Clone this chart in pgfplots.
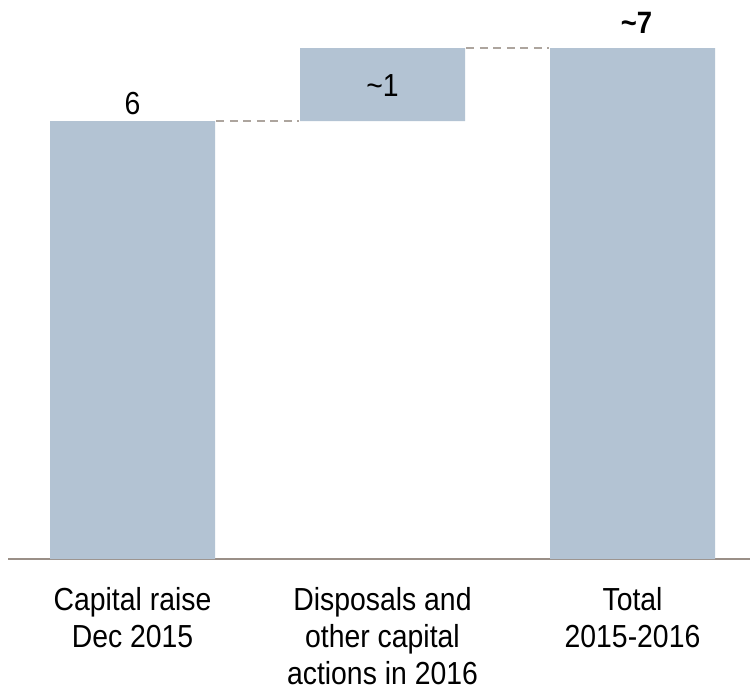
\documentclass[border=0pt]{standalone}
\usepackage{pgfplots}
\pgfplotsset{compat=1.18}
\usepackage{fontspec}
\setmainfont{Liberation Sans}[FakeStretch=0.89]
\definecolor{barblue}{HTML}{B3C3D3}
\definecolor{axisgray}{HTML}{9A8F87}
\definecolor{dashgray}{HTML}{ADA59E}
\begin{document}
\begin{tikzpicture}
\begin{axis}[
    scale only axis,
    width=742bp,
    height=559bp,
    xmin=-0.498, xmax=2.47,
    ymin=0, ymax=7.66,
    bar width=165bp,
    axis x line*=bottom,
    axis y line=none,
    x axis line style={axisgray, line width=2bp, -},
    xtick={0,1,2},
    xticklabels={Capital raise\\Dec 2015, Disposals and\\other capital\\actions in 2016, Total\\2015-2016},
    xticklabel style={align=center, anchor=north, inner sep=0pt, yshift=-28bp,
        font=\fontsize{32}{37}\selectfont},
    major tick length=0pt,
    clip=false,
]
% invisible base of the floating bar
\addplot[ybar stacked, fill=none, draw=none] coordinates {(0,0) (1,6) (2,0)};
\addplot[ybar stacked, fill=barblue, draw=none] coordinates {(0,6) (1,1) (2,7)};
\addplot[stack plots=false, sharp plot, dashgray, line width=1.5bp, dash pattern=on 8bp off 5.5bp] coordinates {(0.335,6) (0.665,6)};
\addplot[stack plots=false, sharp plot, dashgray, line width=1.5bp, dash pattern=on 8bp off 5.5bp] coordinates {(1.335,7) (1.665,7)};
\node[anchor=base, inner sep=0pt, yshift=7bp, font=\fontsize{32}{36}\selectfont] at (axis cs:0,6) {6};
\node[anchor=base, inner sep=0pt, yshift=25bp, font=\fontsize{32}{36}\selectfont] at (axis cs:1,6) {\textasciitilde1};
\node[anchor=base, inner sep=0pt, yshift=15bp, xshift=4bp, font=\fontsize{31}{36}\selectfont\bfseries] at (axis cs:2,7) {\textasciitilde7};
\end{axis}
\pgfresetboundingbox
\path[use as bounding box] ([shift={(-8bp,-132bp)}]current axis.south west) rectangle ++(750bp,691bp);
\end{tikzpicture}
\end{document}
